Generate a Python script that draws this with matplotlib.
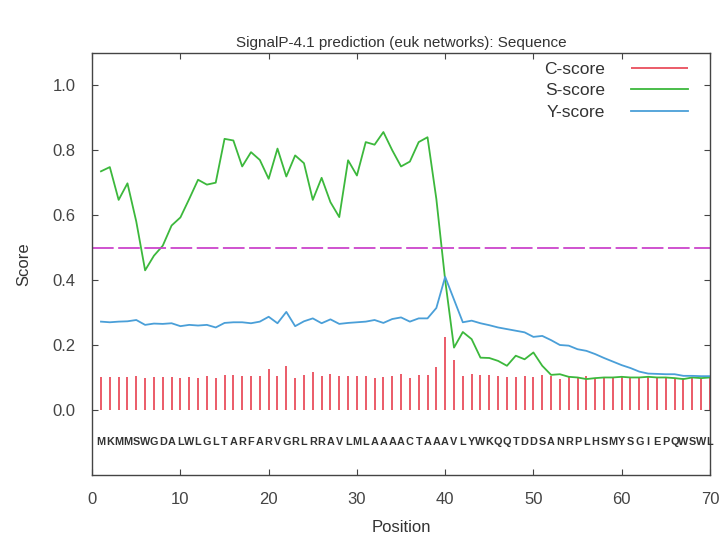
import numpy as np
import matplotlib.pyplot as plt

plt.rcParams['font.family'] = ['Liberation Sans', 'DejaVu Sans']

sequence = "MKMMSWGDALWLGLTARFARVGRLRRAVLMLAAAACTAAAVLYWKQQTDDSANRPLHSMYSGIEPQWSWL"
position = np.arange(1, 71)

c_score = [0.102, 0.102, 0.102, 0.102, 0.104, 0.098, 0.100, 0.102, 0.100, 0.098,
           0.100, 0.098, 0.104, 0.098, 0.108, 0.108, 0.106, 0.106, 0.104, 0.126,
           0.105, 0.136, 0.097, 0.108, 0.118, 0.105, 0.110, 0.104, 0.104, 0.106,
           0.106, 0.098, 0.100, 0.103, 0.110, 0.097, 0.107, 0.107, 0.133, 0.225,
           0.153, 0.105, 0.110, 0.107, 0.107, 0.105, 0.102, 0.102, 0.105, 0.102,
           0.107, 0.105, 0.095, 0.100, 0.100, 0.103, 0.098, 0.100, 0.100, 0.102,
           0.100, 0.100, 0.100, 0.100, 0.100, 0.098, 0.098, 0.102, 0.095, 0.100]

s_score = [0.735, 0.748, 0.647, 0.698, 0.580, 0.430, 0.475, 0.506, 0.568, 0.593,
           0.650, 0.709, 0.694, 0.700, 0.835, 0.830, 0.750, 0.794, 0.770, 0.712,
           0.805, 0.719, 0.784, 0.760, 0.647, 0.715, 0.640, 0.594, 0.769, 0.722,
           0.825, 0.817, 0.856, 0.800, 0.750, 0.765, 0.825, 0.840, 0.650, 0.400,
           0.192, 0.240, 0.218, 0.161, 0.160, 0.151, 0.136, 0.167, 0.156, 0.177,
           0.136, 0.108, 0.110, 0.102, 0.100, 0.095, 0.098, 0.100, 0.100, 0.102,
           0.100, 0.100, 0.102, 0.100, 0.100, 0.098, 0.095, 0.100, 0.098, 0.100]

y_score = [0.272, 0.270, 0.272, 0.273, 0.277, 0.262, 0.266, 0.265, 0.267, 0.258,
           0.262, 0.260, 0.262, 0.254, 0.268, 0.270, 0.270, 0.267, 0.272, 0.287,
           0.267, 0.302, 0.258, 0.273, 0.282, 0.267, 0.279, 0.265, 0.268, 0.270,
           0.272, 0.277, 0.268, 0.280, 0.285, 0.272, 0.282, 0.282, 0.314, 0.410,
           0.340, 0.270, 0.275, 0.267, 0.261, 0.254, 0.249, 0.244, 0.239, 0.225,
           0.228, 0.215, 0.200, 0.198, 0.187, 0.182, 0.172, 0.160, 0.149, 0.138,
           0.129, 0.118, 0.112, 0.111, 0.110, 0.110, 0.105, 0.105, 0.104, 0.104]

cutoff = 0.5

fig = plt.figure(figsize=(7.2, 5.39), dpi=100)
ax = fig.add_axes([0.128, 0.119, 0.858, 0.783])

ax.vlines(position, 0, c_score, color='#e8404f', lw=1.2, label='C-score')
ax.plot(position, s_score, color='#3cb83c', lw=1.3, label='S-score')
ax.plot(position, y_score, color='#4a9fd8', lw=1.3, label='Y-score')
ax.axhline(cutoff, color='#cc44cc', lw=1.3, linestyle=(0, (12, 2.5)))

for p, aa in zip(position, sequence):
    ax.text(p, -0.1, aa, ha='center', va='center', fontsize=7.8,
            fontweight='bold', color='#333333')

ax.set_xlim(0, 70)
ax.set_ylim(-0.2, 1.1)
ax.set_xticks(np.arange(0, 71, 10))
ax.set_yticks([0.0, 0.2, 0.4, 0.6, 0.8, 1.0])
ax.set_yticklabels(['0.0', '0.2', '0.4', '0.6', '0.8', '1.0'])
ax.tick_params(direction='in', top=True, right=True, labelsize=12,
               colors='#444444', length=4)
ax.tick_params(axis='x', pad=12)
ax.tick_params(axis='y', pad=12)
for s in ax.spines.values():
    s.set_color('#444444')
    s.set_linewidth(1.0)

ax.set_xlabel('Position', fontsize=12, color='#333333', labelpad=10)
ax.set_ylabel('Score', fontsize=12, color='#333333', labelpad=15)
ax.set_title('SignalP-4.1 prediction (euk networks): Sequence', fontsize=11,
             color='#333333', pad=4)

ax.legend(loc='upper right', bbox_to_anchor=(0.99, 1.015), frameon=False,
          markerfirst=False, fontsize=12.5, handlelength=3.3, labelspacing=0.35,
          handletextpad=1.5)
for t in ax.get_legend().get_texts():
    t.set_color('#333333')

fig.savefig('out.png', dpi=100)
